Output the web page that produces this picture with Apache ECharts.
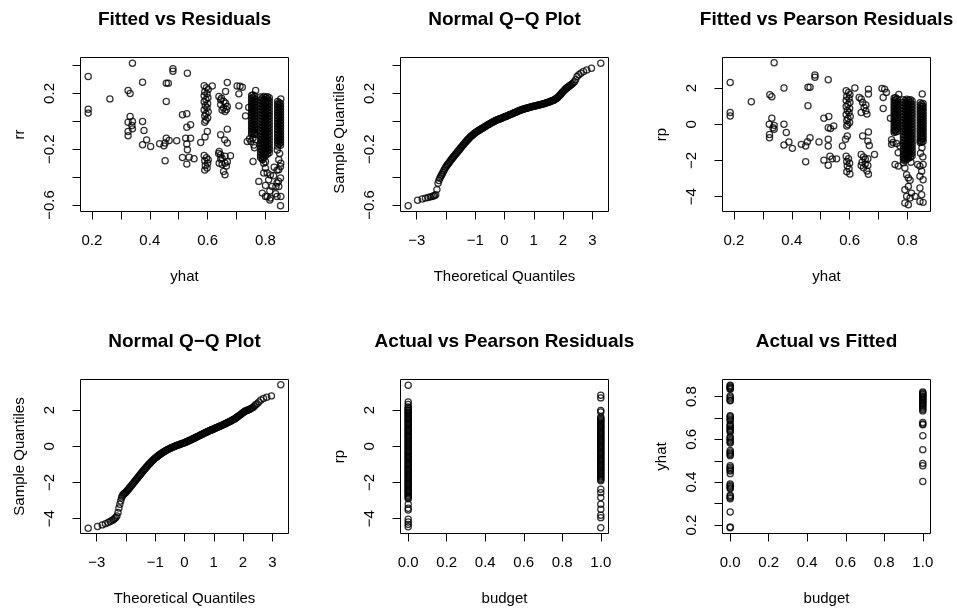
<!DOCTYPE html>
<html><head><meta charset="utf-8">
<script src="https://cdn.jsdelivr.net/npm/echarts@6/dist/echarts.min.js"></script>
<style>html,body{margin:0;padding:0;background:#fff}#c{width:957px;height:609px}</style>
</head><body><div id="c"></div>
<script>
// ---------- DATA ----------
// Panel 1: fitted (yhat) vs residuals (rr)
const residSparse = [
[0.187,0.321],[0.187,0.087],[0.187,0.059],[0.262,0.161],
[0.340,0.417],[0.325,0.221],[0.332,0.199],[0.332,0.034],[0.325,-0.006],[0.340,-0.001],[0.338,-0.030],[0.340,-0.054],[0.325,-0.073],[0.325,-0.104],
[0.375,0.281],[0.375,-0.001],[0.380,-0.066],[0.389,-0.133],[0.375,-0.168],[0.403,-0.180],
[0.434,-0.161],[0.449,-0.176],[0.453,-0.156],[0.457,-0.121],[0.467,-0.137],[0.493,-0.140],[0.453,-0.283],
[0.457,0.274],[0.464,0.274],[0.457,0.142],[0.480,0.378],[0.480,0.360],
[0.530,0.345],[0.513,0.047],[0.528,0.054],[0.528,-0.042],[0.541,-0.025],[0.524,-0.121],[0.541,-0.121],[0.528,-0.163],[0.530,-0.204],[0.513,-0.259],[0.536,-0.257],[0.528,-0.307],[0.553,-0.269],
[0.576,-0.152],[0.591,-0.113],[0.599,-0.073],
[0.588,0.255],[0.596,0.242],[0.602,0.228],[0.590,0.212],[0.598,0.198],[0.588,0.184],[0.601,0.170],[0.594,0.156],[0.588,0.140],[0.600,0.126],[0.592,0.112],[0.598,0.097],[0.588,0.082],[0.602,0.068],[0.594,0.054],[0.590,0.038],[0.600,0.024],[0.594,0.008],[0.590,-0.006],
[0.616,0.254],
[0.588,-0.245],[0.596,-0.262],[0.590,-0.283],[0.600,-0.300],[0.592,-0.318],[0.598,-0.335],[0.590,-0.350],[0.602,-0.275],
[0.639,0.178],[0.645,0.154],[0.656,0.142],[0.668,0.106],[0.650,0.082],[0.660,0.070],[0.645,0.120],[0.662,0.130],[0.655,0.095],[0.648,0.165],[0.665,0.085],
[0.668,0.278],[0.662,0.214],[0.668,-0.056],[0.645,-0.097],[0.659,-0.133],[0.668,-0.156],
[0.640,-0.216],[0.645,-0.240],[0.650,-0.264],[0.660,-0.250],[0.640,-0.300],[0.650,-0.310],[0.660,-0.300],[0.668,-0.290],[0.655,-0.360],[0.660,-0.383],[0.645,-0.270],[0.665,-0.320],[0.638,-0.230],
[0.679,-0.247],
[0.702,0.254],[0.712,0.252],[0.720,0.245],[0.708,0.197],[0.708,0.111],[0.731,0.039],[0.737,-0.145],
[0.745,-0.125],[0.750,-0.145],[0.757,-0.120],[0.766,-0.133],[0.760,-0.170],[0.762,-0.190],[0.757,-0.288],[0.766,0.222],[0.742,0.100],
[0.777,-0.431],[0.789,-0.515],[0.800,-0.540],[0.815,-0.565],[0.800,-0.460],[0.815,-0.500],[0.835,-0.520],[0.836,-0.470],[0.806,-0.370],[0.817,-0.385],[0.828,-0.390],[0.830,-0.330],[0.840,-0.350],[0.845,-0.430],
[0.794,-0.300],[0.800,-0.336],[0.794,-0.371],[0.811,-0.420],[0.806,-0.539],[0.817,-0.551],[0.823,-0.467],[0.840,-0.443],[0.846,-0.467],[0.852,-0.407],[0.846,-0.348],[0.853,-0.300],[0.846,-0.276],[0.852,-0.324],[0.853,-0.539],[0.840,-0.539],[0.852,-0.606],
[0.790,-0.275],[0.800,-0.290],[0.853,0.160],[0.849,-0.230],[0.841,-0.205]
];
const residDenseX = [0.752,0.757,0.762,0.783,0.789,0.795,0.801,0.807,0.813,0.842,0.847,0.852];
const residDenseRr = [
[0.185,0.165,0.145,0.125,0.105,0.085,0.065,0.045,0.025,0.005,-0.015,-0.035,-0.055,-0.075,-0.092],
[0.190,0.172,0.152,0.132,0.112,0.092,0.072,0.052,0.032,0.012,-0.008,-0.028,-0.048,-0.068,-0.088],
[0.180,0.158,0.138,0.118,0.098,0.078,0.058,0.038,0.018,-0.002,-0.022,-0.042,-0.062,-0.082,-0.095],
[0.175,0.153,0.131,0.109,0.087,0.065,0.043,0.021,-0.001,-0.023,-0.045,-0.067,-0.089,-0.111,-0.133,-0.155,-0.177,-0.199,-0.221,-0.243,-0.260],
[0.168,0.146,0.124,0.102,0.080,0.058,0.036,0.014,-0.008,-0.030,-0.052,-0.074,-0.096,-0.118,-0.140,-0.162,-0.184,-0.206,-0.228,-0.250,-0.268],
[0.178,0.157,0.135,0.113,0.091,0.069,0.047,0.025,0.003,-0.019,-0.041,-0.063,-0.085,-0.107,-0.129,-0.151,-0.173,-0.195,-0.217,-0.239,-0.258],
[0.171,0.150,0.128,0.106,0.084,0.062,0.040,0.018,-0.004,-0.026,-0.048,-0.070,-0.092,-0.114,-0.136,-0.158,-0.180,-0.202,-0.224,-0.246],
[0.176,0.161,0.139,0.117,0.095,0.073,0.051,0.029,0.007,-0.015,-0.037,-0.059,-0.081,-0.103,-0.125,-0.147,-0.169,-0.191,-0.213,-0.235],
[0.170,0.148,0.126,0.104,0.082,0.060,0.038,0.016,-0.006,-0.028,-0.050,-0.072,-0.094,-0.116,-0.138,-0.160,-0.182,-0.204,-0.226],
[0.142,0.122,0.102,0.082,0.062,0.042,0.022,0.002,-0.018,-0.038,-0.058,-0.078,-0.098,-0.118,-0.138,-0.158,-0.178],
[0.135,0.115,0.095,0.075,0.055,0.035,0.015,-0.005,-0.025,-0.045,-0.065,-0.085,-0.105,-0.125,-0.145,-0.165],
[0.128,0.108,0.088,0.068,0.048,0.028,0.008,-0.012,-0.032,-0.052,-0.072,-0.092,-0.112,-0.132,-0.152,-0.172]
];

// Panel 3: fitted (yhat) vs Pearson residuals (rp)
const pearsonSparse = [
[0.187,2.31],[0.187,0.65],[0.187,0.46],[0.260,1.24],
[0.339,3.39],[0.324,1.63],[0.331,1.52],[0.373,2.00],[0.331,0.33],[0.322,0.00],[0.339,-0.06],[0.339,-0.28],[0.335,-0.19],[0.323,-0.56],[0.323,-0.74],[0.373,0.00],[0.381,-0.46],[0.373,-1.15],[0.390,-0.98],[0.402,-1.33],
[0.433,-1.11],[0.448,-1.20],[0.454,-0.96],[0.463,-0.74],[0.448,-2.07],[0.456,2.04],[0.463,2.04],[0.456,1.02],[0.480,2.72],[0.480,2.59],[0.526,2.46],[0.494,-0.98],
[0.511,0.33],[0.528,0.43],[0.511,-1.98],[0.526,-2.26],[0.526,-0.19],[0.534,-0.24],[0.545,-0.09],[0.526,-0.83],[0.526,-1.20],[0.532,-1.76],[0.540,-1.91],[0.555,-1.91],[0.575,-1.20],
[0.588,1.85],[0.596,1.75],[0.601,1.64],[0.590,1.53],[0.598,1.42],[0.588,1.31],[0.601,1.20],[0.594,1.09],[0.588,0.98],[0.600,0.87],[0.592,0.76],[0.598,0.65],[0.588,0.54],[0.602,0.43],[0.594,0.32],[0.590,0.21],[0.600,0.10],[0.594,-0.01],[0.590,-0.10],
[0.592,-0.65],[0.586,-0.83],
[0.588,-1.76],[0.596,-1.90],[0.590,-2.05],[0.600,-2.15],[0.592,-2.30],[0.598,-2.45],[0.590,-2.62],[0.601,-2.75],
[0.618,2.00],
[0.633,1.48],[0.640,1.39],[0.645,1.20],[0.656,1.06],[0.656,0.74],[0.660,0.56],[0.640,0.65],[0.650,0.93],[0.665,1.94],[0.665,1.67],[0.665,-0.43],[0.645,-0.65],[0.663,-0.93],[0.668,-1.17],
[0.640,-1.67],[0.648,-1.80],[0.654,-1.93],[0.663,-1.90],[0.643,-2.10],[0.654,-2.20],[0.663,-2.28],[0.648,-2.40],[0.660,-2.58],[0.665,-2.76],[0.640,-2.28],
[0.686,-1.67],
[0.712,1.98],[0.721,1.94],[0.727,1.76],[0.716,1.48],[0.716,0.87],[0.741,0.33],
[0.745,-1.11],[0.762,-1.06],[0.768,-1.57],[0.768,-2.31],[0.745,-0.85],[0.750,-1.00],[0.757,-2.22],[0.774,-1.20],[0.851,1.67],[0.770,1.65],
[0.786,-2.13],[0.791,-2.41],[0.797,-2.78],[0.803,-2.96],[0.809,-3.09],[0.803,-3.43],[0.791,-3.61],[0.797,-3.98],[0.809,-4.07],[0.803,-4.44],[0.791,-4.35],[0.814,-3.80],[0.826,-3.98],[0.843,-3.52],[0.849,-3.89],[0.843,-4.26],[0.854,-4.31],[0.835,-2.22],[0.843,-2.31],[0.849,-2.59],[0.854,-2.22],[0.843,-2.87],[0.854,-3.06],
[0.790,-2.00],[0.812,-2.10],[0.850,-1.30],[0.845,-1.60],[0.853,-1.80]
];
const pearsonDenseX = [0.754,0.759,0.764,0.786,0.792,0.798,0.804,0.810,0.816,0.844,0.849,0.854];
const pearsonDenseRp = [
[1.45,1.30,1.15,1.00,0.85,0.70,0.55,0.40,0.25,0.10,-0.05,-0.20,-0.35,-0.46],
[1.47,1.35,1.20,1.05,0.90,0.75,0.60,0.45,0.30,0.15,0.00,-0.15,-0.30,-0.42],
[1.40,1.25,1.10,0.95,0.80,0.65,0.50,0.35,0.20,0.05,-0.10,-0.25,-0.40],
[1.36,1.20,1.04,0.88,0.72,0.56,0.40,0.24,0.08,-0.08,-0.24,-0.40,-0.56,-0.72,-0.88,-1.04,-1.20,-1.36,-1.52,-1.68,-1.84,-1.95],
[1.30,1.14,0.98,0.82,0.66,0.50,0.34,0.18,0.02,-0.14,-0.30,-0.46,-0.62,-0.78,-0.94,-1.10,-1.26,-1.42,-1.58,-1.74,-1.90],
[1.38,1.24,1.08,0.92,0.76,0.60,0.44,0.28,0.12,-0.04,-0.20,-0.36,-0.52,-0.68,-0.84,-1.00,-1.16,-1.32,-1.48,-1.64,-1.80,-1.93],
[1.33,1.17,1.01,0.85,0.69,0.53,0.37,0.21,0.05,-0.11,-0.27,-0.43,-0.59,-0.75,-0.91,-1.07,-1.23,-1.39,-1.55,-1.71,-1.87],
[1.36,1.22,1.06,0.90,0.74,0.58,0.42,0.26,0.10,-0.06,-0.22,-0.38,-0.54,-0.70,-0.86,-1.02,-1.18,-1.34,-1.50,-1.66,-1.82],
[1.28,1.12,0.96,0.80,0.64,0.48,0.32,0.16,0.00,-0.16,-0.32,-0.48,-0.64,-0.80,-0.96,-1.12,-1.28,-1.44,-1.60,-1.75],
[1.19,1.04,0.89,0.74,0.59,0.44,0.29,0.14,-0.01,-0.16,-0.31,-0.46,-0.61,-0.76,-0.91,-1.01],
[1.12,0.97,0.82,0.67,0.52,0.37,0.22,0.07,-0.08,-0.23,-0.38,-0.53,-0.68,-0.83,-0.98],
[1.15,1.00,0.85,0.70,0.55,0.40,0.25,0.10,-0.05,-0.20,-0.35,-0.50,-0.65,-0.80,-0.95]
];

// Panels 2 & 4: normal Q-Q plots (theoretical quantiles, sample quantiles)
const qqTheo = [-3.29,-2.97,-2.81,-2.70,-2.61,-2.54,-2.48,-2.43,-2.39,-2.35,-2.31,-2.27,-2.24,-2.21,-2.18,-2.15,-2.13,
-2.10,-2.07,-2.04,-2.01,-1.98,-1.95,-1.92,-1.89,-1.86,-1.83,-1.80,-1.77,-1.74,-1.71,-1.68,-1.65,-1.62,-1.59,-1.56,-1.53,-1.50,-1.47,-1.44,-1.41,-1.38,-1.35,-1.32,-1.29,-1.26,-1.23,-1.20,-1.17,-1.14,-1.11,-1.08,-1.05,-1.02,-0.99,-0.96,-0.93,-0.90,-0.87,-0.84,-0.81,-0.78,-0.75,-0.72,-0.69,-0.66,-0.63,-0.60,-0.57,-0.54,-0.51,-0.48,-0.45,-0.42,-0.39,-0.36,-0.33,-0.30,-0.27,-0.24,-0.21,-0.18,-0.15,-0.12,-0.09,-0.06,-0.03,
0.00,0.03,0.06,0.09,0.12,0.15,0.18,0.21,0.24,0.27,0.30,0.33,0.36,0.39,0.42,0.45,0.48,0.51,0.54,0.57,0.60,0.63,0.66,0.69,0.72,0.75,0.78,0.81,0.84,0.87,0.90,0.93,0.96,0.99,1.02,1.05,1.08,1.11,1.14,1.17,1.20,1.23,1.26,1.29,1.32,1.35,1.38,1.41,1.44,1.47,1.50,1.53,1.56,1.59,1.62,1.65,1.68,1.71,1.74,1.77,1.80,1.83,1.86,1.89,1.92,1.95,1.98,2.01,2.04,2.07,2.10,
2.13,2.15,2.18,2.21,2.24,2.27,2.31,2.35,2.39,2.43,2.48,2.54,2.61,2.70,2.81,2.97,3.29];
const qqRr = [-0.606,-0.566,-0.557,-0.551,-0.546,-0.542,-0.539,-0.536,-0.533,-0.527,-0.490,-0.445,-0.425,-0.408,-0.395,-0.385,-0.377,
-0.365,-0.353,-0.341,-0.329,-0.320,-0.312,-0.304,-0.295,-0.287,-0.278,-0.270,-0.262,-0.254,-0.246,-0.238,-0.231,-0.223,-0.215,-0.208,-0.200,-0.192,-0.184,-0.176,-0.169,-0.161,-0.154,-0.146,-0.139,-0.132,-0.126,-0.119,-0.113,-0.107,-0.101,-0.096,-0.090,-0.085,-0.081,-0.076,-0.072,-0.068,-0.064,-0.060,-0.056,-0.052,-0.049,-0.045,-0.041,-0.037,-0.033,-0.029,-0.025,-0.022,-0.018,-0.015,-0.011,-0.007,-0.004,-0.001,0.003,0.006,0.009,0.011,0.014,0.017,0.019,0.021,0.024,0.026,0.029,
0.031,0.034,0.036,0.039,0.042,0.045,0.047,0.050,0.053,0.055,0.058,0.061,0.063,0.066,0.069,0.072,0.074,0.077,0.079,0.082,0.084,0.086,0.088,0.090,0.092,0.094,0.096,0.098,0.099,0.101,0.103,0.105,0.106,0.108,0.109,0.111,0.112,0.114,0.115,0.117,0.118,0.120,0.122,0.123,0.125,0.127,0.129,0.131,0.133,0.135,0.137,0.139,0.142,0.144,0.147,0.150,0.152,0.155,0.160,0.164,0.168,0.175,0.181,0.188,0.195,0.201,0.208,0.215,0.222,0.228,0.235,
0.239,0.243,0.248,0.252,0.257,0.262,0.268,0.276,0.284,0.298,0.322,0.334,0.345,0.357,0.368,0.381,0.417];
const qqRp = [-4.52,-4.43,-4.34,-4.27,-4.21,-4.15,-4.10,-4.06,-4.00,-3.93,-3.85,-3.65,-3.41,-3.20,-3.02,-2.86,-2.76,
-2.68,-2.64,-2.59,-2.55,-2.49,-2.44,-2.38,-2.32,-2.26,-2.20,-2.14,-2.08,-2.02,-1.96,-1.90,-1.84,-1.78,-1.72,-1.66,-1.60,-1.54,-1.48,-1.42,-1.36,-1.30,-1.25,-1.19,-1.13,-1.08,-1.02,-0.97,-0.92,-0.87,-0.82,-0.77,-0.73,-0.68,-0.64,-0.60,-0.56,-0.52,-0.48,-0.45,-0.41,-0.38,-0.35,-0.32,-0.29,-0.26,-0.23,-0.20,-0.18,-0.15,-0.13,-0.11,-0.08,-0.06,-0.04,-0.02,0.00,0.02,0.04,0.06,0.07,0.09,0.11,0.13,0.15,0.16,0.18,
0.20,0.22,0.24,0.26,0.28,0.31,0.33,0.35,0.37,0.40,0.42,0.44,0.47,0.49,0.52,0.54,0.56,0.59,0.61,0.64,0.66,0.68,0.71,0.73,0.76,0.78,0.80,0.83,0.85,0.87,0.89,0.91,0.93,0.95,0.97,1.00,1.02,1.04,1.06,1.08,1.10,1.12,1.14,1.16,1.19,1.21,1.23,1.26,1.28,1.31,1.33,1.35,1.38,1.40,1.43,1.46,1.48,1.51,1.55,1.58,1.61,1.65,1.68,1.72,1.76,1.80,1.83,1.87,1.90,1.93,1.96,
1.98,1.99,2.01,2.03,2.05,2.08,2.12,2.16,2.22,2.29,2.35,2.45,2.55,2.64,2.70,2.78,3.39];

// Panel 5: budget (0 / 1) vs Pearson residuals
const budget0Rp = [3.37,2.44,2.30,
2.17,2.11,2.04,1.98,1.91,1.85,1.78,1.72,1.65,1.59,1.52,1.46,1.39,1.33,1.26,1.20,1.13,1.07,1.00,0.94,0.87,0.81,0.74,0.68,0.61,0.55,0.48,0.42,0.35,0.29,0.22,0.16,0.09,0.03,-0.04,-0.10,-0.17,-0.23,-0.30,-0.36,-0.43,-0.49,-0.56,-0.62,-0.69,-0.75,-0.82,-0.88,-0.95,-1.01,-1.08,-1.14,-1.21,-1.27,-1.34,-1.40,-1.47,-1.53,-1.60,-1.66,-1.73,-1.79,-1.86,-1.92,-1.99,-2.05,-2.12,-2.18,-2.25,-2.31,-2.38,-2.44,-2.51,-2.57,-2.64,-2.70,-2.77,-2.83,-2.90,
-3.20,-3.42,-3.52,-4.03,-4.18,-4.31,-4.44];
const budget1Rp = [2.82,2.67,1.98,1.89,
1.61,1.55,1.48,1.42,1.35,1.29,1.22,1.16,1.09,1.03,0.96,0.90,0.83,0.77,0.70,0.64,0.57,0.51,0.44,0.38,0.31,0.25,0.18,0.12,0.05,-0.01,-0.08,-0.14,-0.21,-0.27,-0.34,-0.40,-0.47,-0.53,-0.60,-0.66,-0.73,-0.79,-0.86,-0.92,-0.99,-1.05,-1.12,-1.18,-1.25,-1.31,-1.38,-1.44,-1.51,-1.57,-1.64,-1.70,-1.77,-1.83,-1.90,
-2.37,-2.56,-2.83,-3.20,-3.48,-3.81,-3.94,-4.50];

// Panel 6: budget (0 / 1) vs fitted yhat
const budget0Yhat = [0.853,0.849,0.845,0.841,0.837,0.834,0.803,0.797,0.790,0.783,0.780,
0.711,0.706,0.700,0.693,0.687,0.671,0.665,0.659,0.652,0.646,0.640,0.634,0.612,0.606,0.600,0.594,0.588,0.583,
0.548,0.541,0.535,0.529,0.524,0.477,0.470,0.463,0.457,0.452,0.440,0.392,0.386,0.380,0.374,0.369,0.339,0.334,0.328,0.323,0.261,0.191,0.187];
const budget1Yhat = [0.821,0.817,0.812,0.808,0.803,0.799,0.794,0.789,0.784,0.779,0.774,0.769,0.764,0.758,0.752,0.746,0.740,0.733,
0.679,0.672,0.668,0.617,0.552,0.488,0.477,0.403];

// Axis ticks and labels
const yhatTicks = [0.2,0.3,0.4,0.5,0.6,0.7,0.8];
const yhatLabels = [0.2,0.4,0.6,0.8];
const rrTicks = [-0.6,-0.4,-0.2,0,0.2,0.4];
const rrLabels = [-0.6,-0.2,0.2];
const rpTicks = [-4,-2,0,2];
const rpLabels = [-4,-2,0,2];
const theoTicks = [-3,-2,-1,0,1,2,3];
const theoLabels = [-3,-1,0,1,2,3];
const budgetTicks = [0,0.2,0.4,0.6,0.8,1];
const budgetLabels = [0,0.2,0.4,0.6,0.8,1];

const titles = ['Fitted vs Residuals','Normal Q\u2212Q Plot','Fitted vs Pearson Residuals','Normal Q\u2212Q Plot','Actual vs Pearson Residuals','Actual vs Fitted'];

// ---------- BUILD ----------
const FONT = '"Liberation Sans", Arial, Helvetica, sans-serif';
function flatCols(xs, cols){ const out=[]; xs.forEach((x,i)=>cols[i].forEach(y=>out.push([x,y]))); return out; }
const residData = residSparse.concat(flatCols(residDenseX, residDenseRr));
const pearsonData = pearsonSparse.concat(flatCols(pearsonDenseX, pearsonDenseRp));
const qqRrData = qqTheo.map((t,i)=>[t,qqRr[i]]);
const qqRpData = qqTheo.map((t,i)=>[t,qqRp[i]]);
const budRpData = budget0Rp.map(v=>[0,v]).concat(budget1Rp.map(v=>[1,v]));
const budYhatData = budget0Yhat.map(v=>[0,v]).concat(budget1Yhat.map(v=>[1,v]));

const AX = {
  yhat:{min:0.1604,max:0.8796,ticks:yhatTicks,labels:yhatLabels,dec:1,name:'yhat'},
  rr:{min:-0.647,max:0.458,ticks:rrTicks,labels:rrLabels,dec:1,name:'rr'},
  rp:{min:-4.815,max:3.685,ticks:rpTicks,labels:rpLabels,dec:0,name:'rp'},
  theo:{min:-3.553,max:3.553,ticks:theoTicks,labels:theoLabels,dec:0,name:'Theoretical Quantiles'},
  samp_rr:{min:-0.647,max:0.458,ticks:rrTicks,labels:rrLabels,dec:1,name:'Sample Quantiles'},
  samp_rp:{min:-4.815,max:3.685,ticks:rpTicks,labels:rpLabels,dec:0,name:'Sample Quantiles'},
  budget:{min:-0.04,max:1.04,ticks:budgetTicks,labels:budgetLabels,dec:1,name:'budget'},
  yhatY:{min:0.1604,max:0.8796,ticks:yhatTicks,labels:yhatLabels,dec:1,name:'yhat'}
};
const panels = [
  {box:[80.5,57.5], x:AX.yhat, y:AX.rr, data:residData},
  {box:[400.5,57.5], x:AX.theo, y:AX.samp_rr, data:qqRrData},
  {box:[722.5,57.5], x:AX.yhat, y:AX.rp, data:pearsonData},
  {box:[80.5,379.5], x:AX.theo, y:AX.samp_rp, data:qqRpData},
  {box:[400.5,379.5], x:AX.budget, y:AX.rp, data:budRpData},
  {box:[722.5,379.5], x:AX.budget, y:AX.yhatY, data:budYhatData}
];
const W = 208, H = 154;
const FS = 15;
function fmtNum(v, dec){ let s = Number(v).toFixed(dec); if (Math.abs(v) < 1e-9) s = (0).toFixed(dec); return s.replace('-', '\u2212'); }
function mkAxis(i, ax, isY){
  return {
    type:'value', gridIndex:i, min:ax.min, max:ax.max, scale:true,
    position: isY ? 'left' : 'bottom',
    axisLine:{show:false, onZero:false}, splitLine:{show:false}, splitArea:{show:false},
    axisTick:{show:true, inside:false, length:8, lineStyle:{color:'#000', width:1}, customValues:ax.ticks},
    axisLabel:{show:true, inside:false, customValues:ax.labels, margin:isY?23.2:22, rotate:isY?90:0, color:'#000', fontFamily:FONT, fontSize:FS, formatter:(v)=>fmtNum(v, ax.dec)},
    name:ax.name, nameLocation:'middle', nameGap:isY?53.5:58,
    nameTextStyle:{color:'#000', fontFamily:FONT, fontSize:FS}
  };
}
const option = {
  animation:false, backgroundColor:'#fff',
  textStyle:{fontFamily:FONT},
  title: panels.map((p,i)=>({text:titles[i], left:p.box[0]+W/2, top:i<3?20.1:341.7, textAlign:'center', textVerticalAlign:'middle', padding:0,
    textStyle:{color:'#000', fontFamily:FONT, fontSize:19, fontWeight:'bold'}})),
  grid: panels.map(p=>({left:p.box[0], top:p.box[1], width:W, height:H, show:true, borderColor:'#000', borderWidth:1, backgroundColor:'rgba(0,0,0,0)', containLabel:false, outerBoundsMode:'none'})),
  xAxis: panels.map((p,i)=>mkAxis(i,p.x,false)),
  yAxis: panels.map((p,i)=>mkAxis(i,p.y,true)),
  series: panels.map((p,i)=>({type:'scatter', xAxisIndex:i, yAxisIndex:i, data:p.data, symbol:'circle', symbolSize:6.2,
    itemStyle:{color:'rgba(0,0,0,0)', borderColor:'#000', borderWidth:1.25}, silent:true, progressive:0, large:false,
    emphasis:{disabled:true}}))
};
const chart = echarts.init(document.getElementById('c'), null, {renderer:'canvas'});
chart.setOption(option);
</script></body></html>
